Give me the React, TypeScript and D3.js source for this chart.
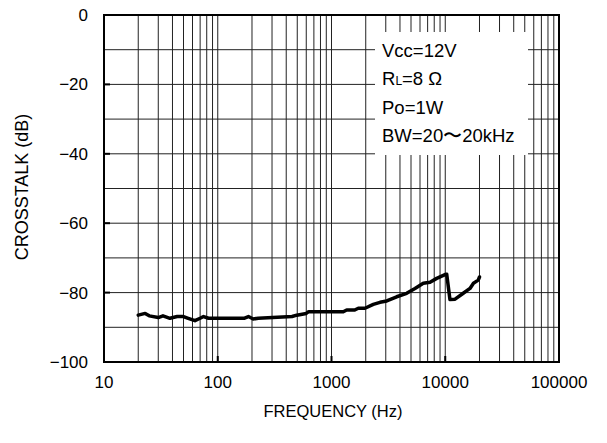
import React from 'react';
import * as d3 from 'd3';

// crosstalk curve (Hz, dB)
const freqs = [20, 23, 25, 30, 33, 38, 44, 50, 55, 63, 70, 75, 83, 170, 186, 205, 227, 450, 495, 600, 630, 970, 1270, 1360, 1600, 1720, 1970, 2330, 2670, 3060, 3740, 4580, 5420, 6410, 7350, 8410, 9950, 10300, 11000, 12200, 14400, 16500, 17700, 19500, 20000];
const crosstalk = [-86.5, -86.0, -86.7, -87.2, -86.7, -87.4, -86.9, -86.9, -87.4, -88.1, -87.4, -86.9, -87.4, -87.4, -86.9, -87.6, -87.4, -86.9, -86.5, -86.0, -85.5, -85.5, -85.5, -85.0, -85.0, -84.5, -84.5, -83.4, -82.8, -82.4, -81.2, -80.2, -78.8, -77.3, -77.0, -75.9, -74.8, -74.7, -82.0, -81.9, -80.2, -78.8, -77.3, -76.4, -75.5];

const xTicks = [10, 100, 1000, 10000, 100000];
const yTicks = [0, -20, -40, -60, -80, -100];
// [main text, subscript, rest]
const legendLines = [
  ['Vcc=12V', '', ''],
  ['R', 'L', '=8 Ω'],
  ['Po=1W', '', ''],
  ['BW=20〜20kHz', '', ''],
];

const W = 607;
const H = 443;
const margin = { top: 15, right: 48, bottom: 81, left: 104 };

export default function App() {
  const x = d3.scaleLog().domain([10, 100000]).range([margin.left, W - margin.right]);
  const y = d3.scaleLinear().domain([-100, 0]).range([H - margin.bottom, margin.top]);

  // minor vertical grid: 1..9 in every decade
  const vGrid: number[] = [];
  for (let d = 10; d < 100000; d *= 10) {
    for (let k = 1; k < 10; k++) vGrid.push(d * k);
  }
  const hGrid = d3.range(-90, 0, 10);

  const line = d3
    .line<number>()
    .x((_, i) => x(freqs[i]))
    .y(d => y(d));

  const font = "'Liberation Sans', Arial, sans-serif";
  const [x0, x1] = x.range();
  const [y0, y1] = y.range();

  return (
    <svg width={W} height={H} style={{ position: 'absolute', left: 0, top: 0 }} fontFamily={font}>
      <rect width={W} height={H} fill="#fff" />
      {vGrid.map(v => (
        <line key={'v' + v} x1={x(v)} x2={x(v)} y1={y1} y2={y0} stroke="#222" strokeWidth={1} />
      ))}
      {hGrid.map(v => (
        <line key={'h' + v} x1={x0} x2={x1} y1={y(v)} y2={y(v)} stroke="#222" strokeWidth={1} />
      ))}
      {/* inward ticks */}
      {xTicks.slice(1, -1).map(t => (
        <line key={'xt' + t} x1={x(t)} x2={x(t)} y1={y0} y2={y0 - 6} stroke="#000" strokeWidth={2} />
      ))}
      {yTicks.slice(1, -1).map(t => (
        <line key={'yt' + t} x1={x0} x2={x0 + 6} y1={y(t)} y2={y(t)} stroke="#000" strokeWidth={2} />
      ))}
      {/* legend box */}
      <rect x={375} y={32} width={153} height={123} fill="#fff" />
      {legendLines.map(([a, sub, b], i) => (
        <text key={i} x={382} y={57 + i * 28.3} fontSize={18.5} fill="#000">
          {a}
          {sub && <tspan fontSize={12}>{sub}</tspan>}
          {b && <tspan>{b}</tspan>}
        </text>
      ))}
      <path d={line(crosstalk) ?? ''} fill="none" stroke="#000" strokeWidth={3.5} strokeLinejoin="round" strokeLinecap="round" />
      <rect x={x0} y={y1} width={x1 - x0} height={y0 - y1} fill="none" stroke="#000" strokeWidth={2} />
      {yTicks.map(t => (
        <text key={'yl' + t} x={88} y={y(t) + 6} textAnchor="end" fontSize={17} fill="#000">
          {t < 0 ? '−' + Math.abs(t) : t}
        </text>
      ))}
      {xTicks.map(t => (
        <text key={'xl' + t} x={x(t)} y={388} textAnchor="middle" fontSize={17} fill="#000">
          {t}
        </text>
      ))}
      <text x={333} y={417} textAnchor="middle" fontSize={16.5} fill="#000">
        FREQUENCY (Hz)
      </text>
      <text transform={`translate(28,187) rotate(-90)`} textAnchor="middle" fontSize={18} fill="#000">
        CROSSTALK (dB)
      </text>
    </svg>
  );
}
